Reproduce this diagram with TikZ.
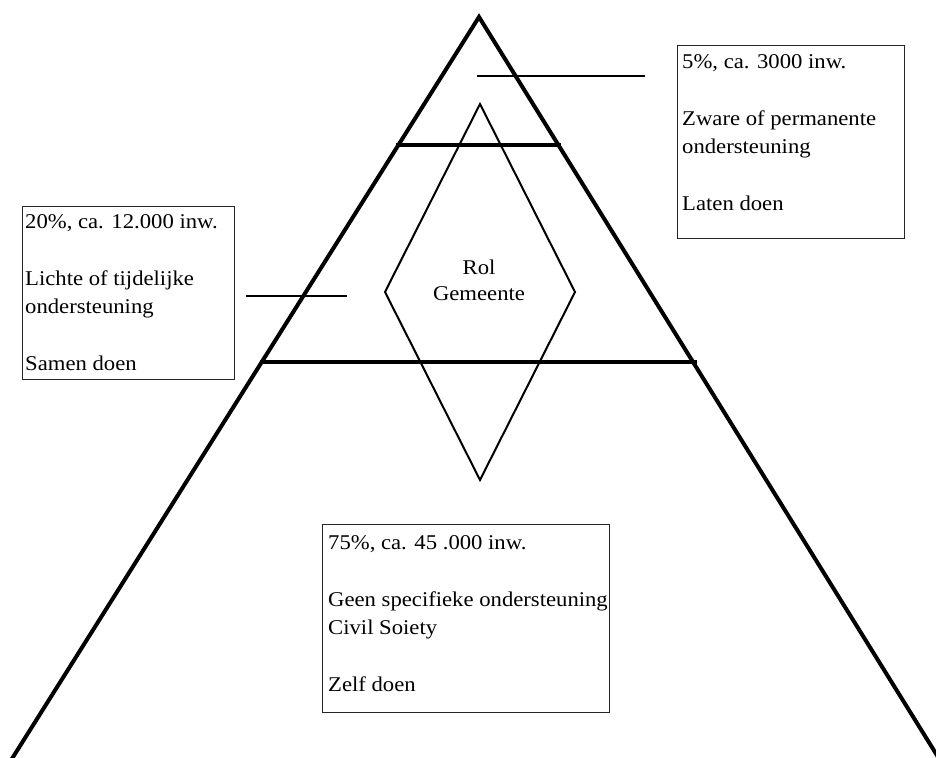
\documentclass[tikz,border=0pt]{standalone}
\usepackage{fontspec}
\setmainfont[FakeStretch=1.08]{Liberation Serif}
\usetikzlibrary{calc}
\begin{document}
\begin{tikzpicture}[x=1pt,y=-1pt,
  edge/.style={line width=4pt,line join=miter,line cap=butt},
  level/.style={line width=3.5pt},
  tick/.style={line width=2.5pt},
  rhomb/.style={line width=2pt,line join=miter},
  infobox/.style={draw=black!85,line width=1.3pt,inner sep=0pt,anchor=north west},
  infotext/.style={anchor=north west,align=left,inner sep=0pt,font=\fontsize{21}{28}\selectfont}]
\useasboundingbox (0,0) rectangle (936,757);
\clip (0,0) rectangle (936,757);
% triangle
\coordinate (apex) at (479,17);
\coordinate (bl) at (8,765);
\coordinate (br) at (943,765);
\draw[edge] (bl) -- (apex) -- (br);
% level lines
\coordinate (l1a) at (396,145);
\coordinate (l1b) at (561,145);
\coordinate (l2a) at (260,362);
\coordinate (l2b) at (697,362);
\draw[level] (l1a) -- (l1b);
\draw[level] (l2a) -- (l2b);
% short ticks
\coordinate (t1a) at (477,76);
\coordinate (t1b) at (645,76);
\coordinate (t2a) at (246,296);
\coordinate (t2b) at (347,296);
\draw[tick] (t1a) -- (t1b);
\draw[tick] (t2a) -- (t2b);
% diamond
\coordinate (dt) at (480,104);
\coordinate (dl) at (385,292);
\coordinate (dr) at (575,292);
\coordinate (db) at (480,480);
\draw[rhomb] (dt) -- (dr) -- (db) -- (dl) -- cycle;
\node[align=center,inner sep=0pt,font=\fontsize{21}{26}\selectfont,anchor=north] (rol) at (479,260) {Rol\\Gemeente};
% boxes
\node[infobox,minimum width=227pt,minimum height=193pt] (rbox) at (677,45) {};
\node[infotext] (rtext) at ($(rbox.north west)+(5,9)$) {5\%, ca. 3000 inw.\\[29pt]Zware of permanente\\ondersteuning\\[29pt]Laten doen};
\node[infobox,minimum width=212pt,minimum height=173pt] (lbox) at (22,206) {};
\node[infotext] (ltext) at ($(lbox.north west)+(3,8)$) {20\%, ca. 12.000 inw.\\[29pt]Lichte of tijdelijke\\ondersteuning\\[29pt]Samen doen};
\node[infobox,minimum width=287pt,minimum height=188pt] (bbox) at (322,524) {};
\node[infotext] (btext) at ($(bbox.north west)+(6,11)$) {75\%, ca. 45 .000 inw.\\[29pt]Geen specifieke ondersteuning\\Civil Soiety\\[29pt]Zelf doen};
\end{tikzpicture}
\end{document}
